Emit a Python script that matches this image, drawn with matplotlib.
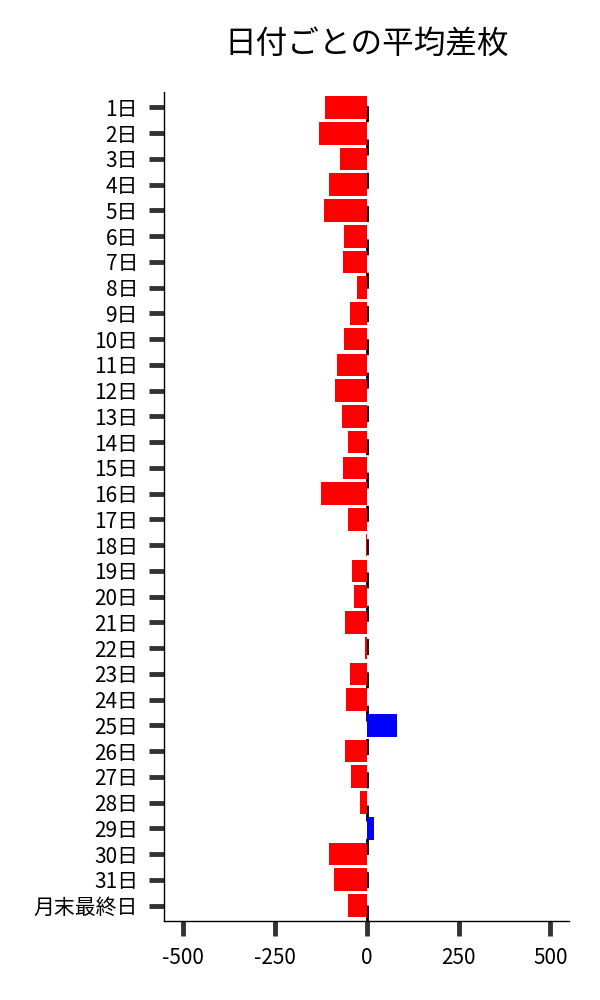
import matplotlib
matplotlib.use("Agg")
import matplotlib.pyplot as plt
import numpy as np

plt.rcParams['font.family'] = ['Noto Sans CJK JP', 'DejaVu Sans']

days = [f"{i}日" for i in range(1, 32)] + ["月末最終日"]
values = [-113, -129, -72, -102, -116, -62, -64, -26,
          -45, -62, -81, -86, -67, -51, -64, -124,
          -51, -2, -40, -34, -59, -3, -45, -56,
          82, -59, -43, -18, 20, -102, -89, -51]
xticks = [-500, -250, 0, 250, 500]
xticklabels = ["-500", "-250", "0", "250", "500"]

fig = plt.figure(figsize=(6, 10), dpi=100)
ax = fig.add_axes([0.274, 0.079, 0.674, 0.829])

pos = np.arange(len(days))
colors = ['#0000ff' if v > 0 else '#ff0000' for v in values]
ax.barh(pos, values, height=0.88, color=colors, zorder=2)
ax.axvline(0, color='black', lw=2, dashes=(5.76, 6.23), zorder=1)

ax.set_ylim(len(days) - 0.4, -0.6)
ax.set_xlim(-550, 550)
ax.set_yticks(pos)
ax.set_yticklabels(days, fontsize=15)
ax.set_xticks(xticks)
ax.set_xticklabels(xticklabels, fontsize=15)

ax.tick_params(axis='both', length=11, width=3.5, color='#333333', pad=8)
for s in ['top', 'right']:
    ax.spines[s].set_visible(False)
for s in ['left', 'bottom']:
    ax.spines[s].set_linewidth(1)
    ax.spines[s].set_color('black')

ax.set_title("日付ごとの平均差枚", fontsize=22.8, pad=28.5)

fig.savefig("out.png", dpi=100)
